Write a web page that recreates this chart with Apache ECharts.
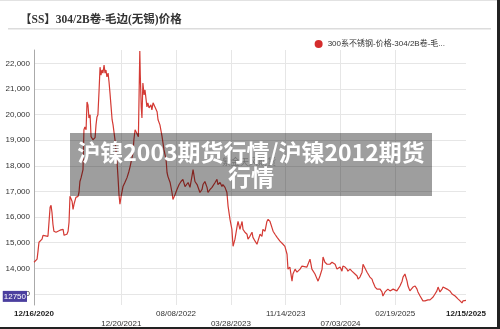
<!DOCTYPE html>
<html>
<head>
<meta charset="utf-8">
<script src="https://cdn.jsdelivr.net/npm/echarts@6/dist/echarts.min.js"></script>
<style>
  html, body { margin: 0; padding: 0; background: #fff; }
  #chart { width: 500px; height: 329px; }
</style>
</head>
<body>
<div id="chart"></div>
<script>
// 304/2B coil (mill edge, Wuxi) spot price, CNY/t
const seriesName = '300系不锈钢-价格-304/2B卷-毛边(无锡)';
const titleText = '【SS】304/2B卷-毛边(无锡)价格';
const overlayText = '沪镍2003期货行情/沪镍2012期货\n行情';
const watermarkText = '紫金天风期货';

const dates = [
  '2020-12-16','2020-12-20','2020-12-29','2021-01-02','2021-01-06','2021-01-10','2021-01-19','2021-01-23','2021-01-31','2021-02-13',
  '2021-02-17','2021-02-22','2021-02-26','2021-03-02','2021-03-06','2021-03-10','2021-03-19','2021-03-23','2021-04-05','2021-04-13',
  '2021-04-18','2021-04-22','2021-04-26','2021-05-04','2021-05-09','2021-05-13','2021-05-17','2021-05-21','2021-05-26','2021-05-30',
  '2021-06-03','2021-06-11','2021-06-20','2021-06-24','2021-06-28','2021-07-03','2021-07-07','2021-07-11','2021-07-15','2021-07-19',
  '2021-07-24','2021-07-28','2021-08-01','2021-08-05','2021-08-10','2021-08-14','2021-08-18','2021-08-22','2021-08-31','2021-09-04',
  '2021-09-08','2021-09-12','2021-09-17','2021-09-21','2021-09-25','2021-09-29','2021-10-03','2021-10-08','2021-10-12','2021-10-16',
  '2021-10-20','2021-10-25','2021-10-29','2021-11-02','2021-11-06','2021-11-11','2021-11-15','2021-11-23','2021-12-02','2021-12-06',
  '2021-12-10','2021-12-14','2021-12-19','2021-12-27','2022-01-04','2022-01-13','2022-01-21','2022-01-26','2022-02-03','2022-02-07',
  '2022-02-11','2022-02-16','2022-02-24','2022-03-02','2022-03-08','2022-03-10','2022-03-14','2022-03-17','2022-03-21','2022-03-26',
  '2022-03-30','2022-04-07','2022-04-11','2022-04-16','2022-04-24','2022-04-28','2022-05-03','2022-05-11','2022-05-20','2022-05-24',
  '2022-06-01','2022-06-10','2022-06-18','2022-06-27','2022-07-01','2022-07-05','2022-07-14','2022-07-22','2022-07-26','2022-08-04',
  '2022-08-12','2022-08-21','2022-08-29','2022-09-06','2022-09-15','2022-09-23','2022-09-28','2022-10-06','2022-10-14','2022-10-19',
  '2022-10-27','2022-11-05','2022-11-17','2022-11-26','2022-11-30','2022-12-08','2022-12-17','2022-12-21','2022-12-30','2023-01-07',
  '2023-01-11','2023-01-20','2023-01-28','2023-02-01','2023-02-10','2023-02-18','2023-02-22','2023-03-03','2023-03-11','2023-03-16',
  '2023-03-24','2023-04-01','2023-04-06','2023-04-14','2023-04-23','2023-04-27','2023-05-05','2023-05-14','2023-05-18','2023-05-26',
  '2023-06-04','2023-06-08','2023-06-16','2023-06-25','2023-06-29','2023-07-08','2023-07-16','2023-07-20','2023-07-29','2023-08-06',
  '2023-08-10','2023-08-19','2023-08-27','2023-09-01','2023-09-09','2023-09-17','2023-09-22','2023-09-30','2023-10-09','2023-10-21',
  '2023-11-03','2023-11-11','2023-11-20','2023-11-24','2023-12-02','2023-12-11','2023-12-15','2023-12-24','2024-01-01','2024-01-05',
  '2024-01-14','2024-01-22','2024-01-26','2024-02-12','2024-02-16','2024-02-25','2024-03-04','2024-03-09','2024-03-17','2024-03-26',
  '2024-03-30','2024-04-07','2024-04-16','2024-04-20','2024-04-28','2024-05-07','2024-05-11','2024-05-19','2024-05-28','2024-06-01',
  '2024-06-10','2024-06-18','2024-06-22','2024-07-01','2024-07-09','2024-07-13','2024-07-22','2024-07-30','2024-08-03','2024-08-12',
  '2024-08-20','2024-08-25','2024-09-02','2024-09-11','2024-09-15','2024-09-23','2024-10-02','2024-10-06','2024-10-14','2024-10-23',
  '2024-10-27','2024-11-04','2024-11-13','2024-11-17','2024-11-26','2024-12-04','2024-12-17','2024-12-25','2024-12-29','2025-01-07',
  '2025-01-15','2025-01-19','2025-01-28','2025-02-05','2025-02-10','2025-02-26','2025-03-11','2025-03-20','2025-03-24','2025-04-01',
  '2025-04-10','2025-04-14','2025-04-22','2025-05-05','2025-05-14','2025-05-22','2025-05-26','2025-06-04','2025-06-12','2025-06-16',
  '2025-06-25','2025-07-07','2025-07-16','2025-07-29','2025-08-06','2025-08-14','2025-08-19','2025-08-27','2025-09-05','2025-09-09',
  '2025-09-17','2025-09-26','2025-10-08','2025-10-17','2025-10-30','2025-11-11','2025-11-20','2025-11-28','2025-12-02','2025-12-08',
  '2025-12-15'
];

const prices = [
  14240,14280,14360,14670,15020,14980,15140,15290,15250,15250,
  15290,16380,16460,16180,15720,15450,15410,15410,15490,15520,
  15520,15290,15250,15330,15450,15800,16810,16730,16610,16300,
  16500,16770,16810,16960,17390,17540,17470,17850,19410,19520,
  19410,20490,20380,19870,19990,19140,19100,19020,19100,19600,
  19910,19990,20960,21850,21540,21740,21620,21930,21620,21740,
  21470,21620,21270,20840,20380,19800,19600,19020,18130,17540,
  16880,16500,16810,17190,17350,17540,17780,17970,18320,18510,
  19020,19410,19480,19140,22480,21540,20300,19870,21230,20770,
  20960,20300,20460,20260,20380,20180,20460,20460,20110,19800,
  19600,19140,18630,18240,17740,17580,17350,16960,16690,16880,
  17080,17270,17390,17470,17190,17160,17350,17160,17580,17850,
  17390,17270,16960,17080,17270,17390,17160,16960,17080,17160,
  17190,17350,17470,17270,17350,17190,17270,17160,16960,16420,
  15910,15520,14860,15140,15640,15830,15520,15830,15520,15410,
  15330,15140,15250,15410,15210,15060,14940,15060,15330,15250,
  15520,15450,15830,15910,15830,15600,15450,15330,15210,15060,
  14940,14860,14550,13970,14050,13500,13780,13970,13850,13890,
  13970,14090,14090,14050,14090,14360,13970,13970,13780,13580,
  13500,13700,13970,14440,14240,14160,14090,14160,14240,14280,
  14160,13970,13970,14050,13890,14090,14050,13970,13890,13970,
  13890,13850,13780,13700,13580,13660,13850,14160,14090,13850,
  13850,13660,13580,13470,13270,13190,13190,13080,12920,13080,
  13120,13190,13120,13190,13190,13120,13310,13500,13660,13780,
  13500,13310,13120,13270,13310,13190,13080,12920,12920,12730,
  12730,12770,12770,12880,13000,13120,13270,13080,13190,13270,
  13230,13190,13120,13000,12920,12810,12730,12650,12730,12700,
  12750
];

// date ticks along the bottom (alternating rows), and grid values on the left
const xTickDates = ['2020-12-16','2021-12-20','2022-08-08','2023-03-28','2023-11-14','2024-07-03','2025-02-19','2025-12-15'];
const xGridDates = ['2021-12-20','2022-08-08','2023-03-28','2023-11-14','2024-07-03','2025-02-19'];
const yTicks = [13000,14000,15000,16000,17000,18000,19000,20000,21000,22000];

// dates are placed on a linear scale of day stamps (UTC ms)
const toStamp = s => Date.UTC(+s.slice(0, 4), +s.slice(5, 7) - 1, +s.slice(8, 10));
const xTickStamps = xTickDates.map(toStamp);
const fmtDate = s => s.slice(5, 7) + '/' + s.slice(8, 10) + '/' + s.slice(0, 4);
const lastPrice = prices[prices.length - 1];

const chart = echarts.init(document.getElementById('chart'), null, { renderer: 'canvas' });

chart.setOption({
  animation: false,
  backgroundColor: '#fff',
  title: {
    text: titleText,
    left: 15,
    top: 9,
    textStyle: {
      fontFamily: '"Liberation Serif", "Noto Sans CJK SC", serif',
      fontSize: 11.5,
      fontWeight: 'bold',
      color: '#333'
    }
  },
  legend: {
    right: 50,
    top: 35,
    icon: 'circle',
    itemWidth: 8,
    itemHeight: 8,
    itemGap: 4,
    textStyle: {
      fontFamily: '"Liberation Sans", "Noto Sans CJK SC", sans-serif',
      fontSize: 8,
      color: '#333',
      width: 123,
      overflow: 'truncate',
      ellipsis: '...'
    },
    data: [seriesName]
  },
  grid: { left: 34, right: 34, top: 50, bottom: 23, containLabel: false },
  xAxis: {
    type: 'value',
    min: xTickStamps[0],
    max: xTickStamps[xTickStamps.length - 1],
    axisLine: { show: false },
    axisTick: { show: false, customValues: xGridDates.map(toStamp) },
    splitLine: { show: true, lineStyle: { color: '#e6e6e6', width: 1 } },
    axisLabel: {
      customValues: xTickStamps,
      margin: 4,
      fontFamily: '"Liberation Sans", sans-serif',
      fontSize: 8,
      color: '#333',
      lineHeight: 10,
      formatter: function (value) {
        let best = 0;
        xTickStamps.forEach((t, k) => { if (Math.abs(t - value) < Math.abs(xTickStamps[best] - value)) best = k; });
        const txt = fmtDate(xTickDates[best]);
        if (best === 0 || best === xTickDates.length - 1) return '{b|' + txt + '}';
        return best % 2 === 1 ? '{n|}\n{n|' + txt + '}' : '{n|' + txt + '}';
      },
      rich: {
        b: { fontWeight: 'bold', fontSize: 8, color: '#222', lineHeight: 10, fontFamily: '"Liberation Sans", sans-serif' },
        n: { fontSize: 8, color: '#333', lineHeight: 10, fontFamily: '"Liberation Sans", sans-serif' }
      }
    }
  },
  yAxis: {
    type: 'value',
    min: 12570,
    max: 22520,
    axisLine: { show: true, lineStyle: { color: '#aaa', width: 1 } },
    axisTick: { show: false, customValues: yTicks },
    splitLine: { show: true, lineStyle: { color: '#e6e6e6', width: 1 } },
    axisLabel: {
      customValues: yTicks,
      margin: 4,
      fontFamily: '"Liberation Sans", sans-serif',
      fontSize: 8,
      color: '#333'
    }
  },
  series: [{
    name: seriesName,
    type: 'line',
    showSymbol: false,
    symbol: 'circle',
    data: dates.map((d, i) => [toStamp(d), prices[i]]),
    lineStyle: { color: '#d43a34', width: 1.2 },
    itemStyle: { color: '#d42c2c' }
  }],
  graphic: [
    { type: 'rect', shape: { x: 8, y: 28, width: 483, height: 1.5 }, style: { fill: '#dcdcdc' }, silent: true },
    { type: 'rect', shape: { x: 0, y: 0, width: 500, height: 1 }, style: { fill: '#e2e2e2' }, silent: true },
    { type: 'rect', shape: { x: 497, y: 0, width: 3, height: 329 }, style: { fill: '#222' }, silent: true },
    { type: 'rect', shape: { x: 0, y: 327, width: 500, height: 2 }, style: { fill: '#222' }, silent: true },
    {
      type: 'text', x: 249, y: 162, z: 50,
      style: { text: watermarkText, fill: 'rgba(60,60,60,0.35)', font: '9px "Noto Sans CJK SC"', align: 'center', verticalAlign: 'middle' },
      silent: true
    },
    { type: 'rect', z: 100, shape: { x: 70, y: 133, width: 362, height: 63 }, style: { fill: 'rgba(0,0,0,0.38)' }, silent: true },
    {
      type: 'text', z: 101, x: 251, y: 165,
      style: {
        text: overlayText,
        fill: '#fff',
        font: 'bold 23px "Noto Sans CJK SC"',
        lineHeight: 25,
        align: 'center',
        verticalAlign: 'middle'
      },
      silent: true
    }
  ]
});

// latest-price badge on the value axis, placed at the last data value
const badgeY = chart.convertToPixel({ gridIndex: 0 }, [xTickStamps[0], lastPrice])[1];
chart.setOption({
  graphic: [{
    id: 'lastPriceBadge',
    type: 'text',
    z: 60,
    x: 27,
    y: badgeY - 4,
    style: {
      text: String(lastPrice),
      fill: '#fff',
      font: '8px "Liberation Sans"',
      align: 'right',
      verticalAlign: 'middle',
      backgroundColor: '#4b3f9f',
      padding: [2, 1, 1, 1]
    },
    silent: true
  }]
});
</script>
</body>
</html>
